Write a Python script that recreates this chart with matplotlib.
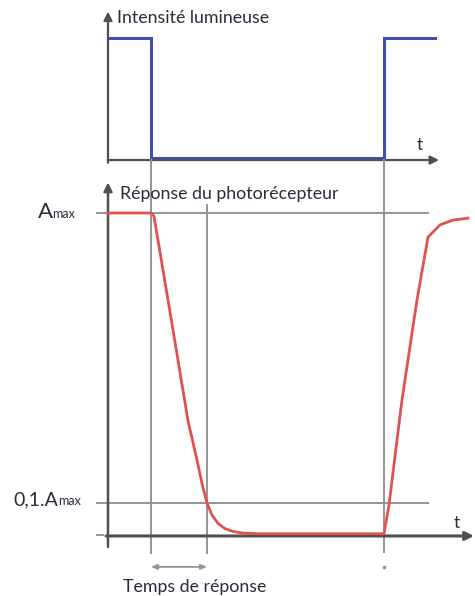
import numpy as np
import matplotlib.pyplot as plt

t_off = 4.3      # extinction de la lumière
t_rep = 9.9      # réponse à 10 % de Amax
t_on = 27.6      # rallumage
t_end = 32.7

light_t = [0, t_off, t_off, t_on, t_on, t_end]
light_val = [1, 1, 0, 0, 1, 1]

resp_t = [0, 4.3, 4.6, 6.5, 8.0, 8.9, 9.4, 9.9, 10.4, 11.0, 11.7, 12.5,
          13.5, 15.0, 27.6, 28.1, 29.4, 30.9, 32.0, 33.2, 34.5, 36.0]
resp_val = [1, 1, 0.99, 0.637, 0.355, 0.233, 0.16, 0.099, 0.062, 0.036,
            0.02, 0.011, 0.006, 0.004, 0.004, 0.093, 0.42, 0.73, 0.925,
            0.963, 0.978, 0.984]

levels = [1.0, 0.1]

axis_col = "#505050"
guide_col = "#949494"
text_col = "#2b2b3d"
blue = "#3f4fb3"
red = "#e05252"
font = ["Lato", "DejaVu Sans"]

fig = plt.figure(figsize=(4.75, 5.96), dpi=100)
xlim = (-10.8, 36.7)

# ---- panneau du haut : intensité lumineuse
ax1 = fig.add_axes([0, 1 - 175 / 596, 1, 175 / 596])
ax1.set_xlim(xlim)
ax1.set_ylim(-0.1417, 1.3167)
ax1.axis("off")

ax1.annotate("", xy=(0, 1.22), xytext=(0, -0.04),
             arrowprops=dict(arrowstyle="-|>,head_width=0.25,head_length=0.5",
                             color=axis_col, lw=1.6, shrinkA=0, shrinkB=0))
ax1.annotate("", xy=(33.1, -0.017), xytext=(0, -0.017),
             arrowprops=dict(arrowstyle="-|>,head_width=0.25,head_length=0.5",
                             color=axis_col, lw=1.6, shrinkA=0, shrinkB=0))
ax1.plot(light_t, light_val, color=blue, lw=2.2, solid_joinstyle="miter")
ax1.text(0.9, 1.167, "Intensité lumineuse", fontsize=12.8, color=text_col,
         family=font, va="center", ha="left")
ax1.text(31.2, 0.11, "t", fontsize=12.5, color=text_col, family=font,
         va="center", ha="center")

# ---- panneau du bas : réponse du photorécepteur
ax2 = fig.add_axes([0, 0, 1, 421 / 596])
ax2.set_xlim(xlim)
ax2.set_ylim(-0.1894, 1.118)
ax2.axis("off")

# lignes guides
for lv in levels:
    ax2.plot([-1.1, 32.0], [lv, lv], color=guide_col, lw=1.4, zorder=1)
ax2.plot([t_off, t_off], [-0.056, 1.165], color=guide_col, lw=1.4,
         zorder=1, clip_on=False)
ax2.plot([t_rep, t_rep], [-0.056, 1.025], color=guide_col, lw=1.4, zorder=1)
ax2.plot([t_on, t_on], [-0.053, 1.165], color=guide_col, lw=1.4,
         zorder=1, clip_on=False)
ax2.plot([t_on], [-0.099], marker="s", ms=1.5, color=guide_col)
ax2.plot([-1.1, -0.5], [0, 0], color=guide_col, lw=1.4)

# axes fléchés
ax2.annotate("", xy=(0, 1.095), xytext=(0, -0.037),
             arrowprops=dict(arrowstyle="-|>,head_width=0.25,head_length=0.5",
                             color=axis_col, lw=1.8, shrinkA=0, shrinkB=0))
ax2.annotate("", xy=(36.6, -0.003), xytext=(-0.2, -0.003),
             arrowprops=dict(arrowstyle="-|>,head_width=0.25,head_length=0.5",
                             color=axis_col, lw=2.2, shrinkA=0, shrinkB=0))

ax2.plot(resp_t, resp_val, color=red, lw=2.0, zorder=3)

# textes
ax2.text(1.2, 1.059, "Réponse du photorécepteur", fontsize=12.8,
         color=text_col, family=font, va="center", ha="left")
ax2.text(34.9, 0.037, "t", fontsize=12.5, color=text_col, family=font,
         va="center", ha="center")
ax2.text(8.7, -0.163, "Temps de réponse", fontsize=12.8, color=text_col,
         family=font, va="center", ha="center")

ax2.text(-7.0, 0.984, "A", fontsize=16, color=text_col, family=font,
         va="baseline", ha="left")
ax2.text(-5.55, 0.984, "max", fontsize=9, color=text_col, family=font,
         va="baseline", ha="left")
ax2.text(-9.5, 0.093, "0,1.A", fontsize=14, color=text_col, family=font,
         va="baseline", ha="left")
ax2.text(-5.0, 0.093, "max", fontsize=9, color=text_col, family=font,
         va="baseline", ha="left")

# double flèche du temps de réponse
ax2.annotate("", xy=(t_off, -0.099), xytext=(t_rep, -0.099),
             arrowprops=dict(arrowstyle="<|-|>,head_width=0.15,head_length=0.35",
                             color=guide_col, lw=1.3, shrinkA=0, shrinkB=0))

fig.savefig("out.png", dpi=100)
